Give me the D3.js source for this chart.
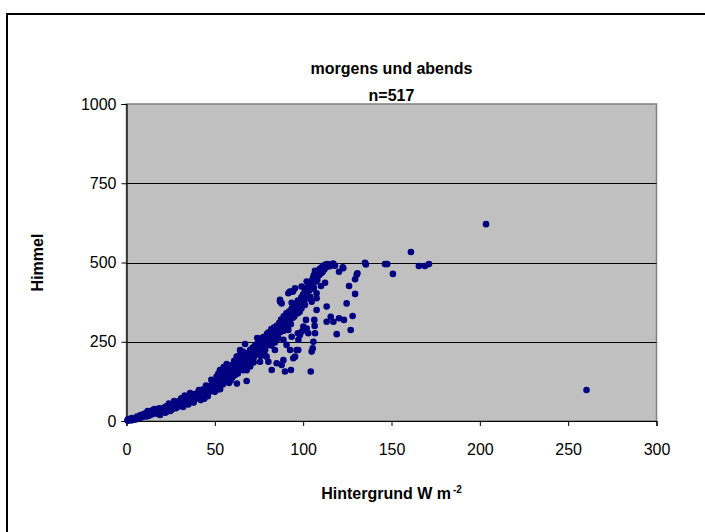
<!DOCTYPE html>
<html>
<head>
<meta charset="utf-8">
<script src="https://cdn.jsdelivr.net/npm/d3@7"></script>
<style>
  body { margin: 0; background: #fff; }
  svg { display: block; }
</style>
</head>
<body>
<div id="chart"></div>
<script>
const titleLines = ["morgens und abends", "n=517"];
const xTitle = "Hintergrund W m";
const xTitleSup = "-2";
const yTitle = "Himmel";
const xTicks = [0, 50, 100, 150, 200, 250, 300];
const yTicks = [0, 250, 500, 750, 1000];
const gridValues = [250, 500, 750];

// [Hintergrund, Himmel] pairs
const points = [
  // dense band, 0-20
  [0.5,2],[1,1],[1.5,4],[2,3],[2.5,6],[3,2],[3.5,5],[4,8],[4.5,4],[5,7],[5.5,10],[6,6],[6.5,12],[7,9],[7.5,14],[8,11],[8.5,16],[9,13],[9.5,20],[10,15],[1,6],[3,9],[6,14],[8,19],[10,22],
  [10.5,18],[11,25],[11.5,14],[12,20],[12.5,27],[13,17],[13.5,23],[14,30],[14.5,21],[15,26],[15.5,33],[16,24],[16.5,29],[17,36],[17.5,26],[18,32],[18.5,40],[19,19],[19.5,30],[20,36],[12,31],[15,35],[18,22],[16,38],
  // 20-40
  [20.5,28],[21,42],[21.5,33],[22,38],[22.5,46],[23,30],[23.5,40],[24,48],[24.5,36],[25,44],[25.5,52],[26,38],[26.5,47],[27,56],[27.5,43],[28,50],[28.5,60],[29,45],[29.5,55],[30,64],[22,26],[25,32],[28,40],[30,48],[27,63],[24,55],
  [30.5,58],[31,52],[31.5,68],[32,60],[32.5,50],[33,72],[33.5,63],[34,57],[34.5,75],[35,66],[35.5,60],[36,78],[36.5,70],[37,64],[37.5,83],[38,74],[38.5,68],[39,86],[39.5,77],[40,72],[32,44],[35,52],[38,58],[33,80],[36,88],[31,72],
  // 40-62
  [40.5,88],[41,80],[41.5,94],[42,76],[42.5,90],[43,84],[43.5,100],[44,82],[44.5,95],[45,90],[45.5,106],[46,88],[46.5,100],[47,96],[42,66],[44,70],[46,78],[41,98],[45,112],[47,110],
  [47.5,104],[48,94],[48.5,118],[49,100],[49.5,112],[50,106],[50.5,125],[51,98],[51,140],[51.5,115],[52,130],[52,150],[52.5,108],[53,122],[53.5,140],[54,128],[54,160],[54.5,115],[55,135],[55,150],[50,92],[48,130],[53,100],[55,170],
  [55.5,125],[56,145],[56.5,160],[57,130],[57.5,152],[58,140],[58.5,170],[59,148],[59.5,160],[60,138],[60,178],[60.5,155],[61,165],[61.5,145],[62,185],[62,160],[57,175],[59,128],[61,190],[58,120],
  // 62-87
  [62.5,172],[63,150],[63.5,180],[64,165],[64.5,195],[65,170],[65.5,185],[66,160],[66.5,200],[67,180],[67.5,210],[68,175],[68.5,195],[69,215],[69.5,185],[70,205],[70,225],[64,208],[66,218],[68,160],[70,172],
  [70.5,195],[71,215],[71.5,232],[72,200],[72.5,225],[73,240],[73.5,210],[74,230],[74.5,250],[75,218],[75,240],[75.5,260],[76,228],[76.5,248],[77,235],[77.5,265],[78,245],[78.5,225],[79,255],[79.5,275],[80,240],[80,262],[72,185],[76,205],[78,212],[74,262],
  [80.5,280],[81,250],[81.5,268],[82,290],[82.5,258],[83,275],[83.5,295],[84,265],[84.5,285],[85,300],[85.5,272],[86,290],[86.5,310],[87,280],[87,300],[82,238],[84,248],[86,260],
  // 87-118
  [87.5,320],[88,295],[88.5,310],[89,330],[89.5,300],[90,318],[90.5,340],[91,310],[91.5,328],[92,345],[92.5,318],[93,335],[93.5,355],[94,325],[94.5,345],[95,360],[89,285],[91,295],[93,305],[95,330],
  [95.5,345],[96,370],[96.5,350],[97,380],[97.5,360],[98,345],[98.5,375],[99,390],[99.5,365],[100,380],[100,400],[97,340],[99,355],
  [100.5,390],[101,410],[101.5,385],[102,420],[103,430],[103.5,412],[104,392],[104,440],[104.5,420],[105,435],[105.5,450],[106,420],[106,460],
  [106.5,440],[107,470],[107.5,455],[108,445],[108.5,475],[109,460],[109.5,480],[110,465],[110.5,485],[111,470],[111.5,490],[112,478],
  [112.5,490],[113,485],[114,495],[115,488],[116,493],[117,497],[118,490],
  // above the band
  [52.9,161],[56.7,180],[62.4,203],[64.3,224],[67.1,243],[86.9,382],[87.8,371],[91.6,403],[94.4,411],[92.5,408],[94,408],[99.1,424],[95.4,419],[93.5,373],[86.9,377],[102,440],[106.7,474],[112.3,487],[122.7,482],
  // below the band
  [62.5,118],[68,126],[75.6,187],[79.3,203],[80.3,187],[82.2,161],[85,182],[87.8,177],[88.8,192],[88.8,256],[89.7,156],[90.6,240],[84,224],[91.6,287],[92.6,224],[93.1,161],[93.5,266],[94.4,198],[95.4,203],[96.3,224],[97.2,224],[97,277],[97.3,256],[98.2,271],[99.2,282],[100.1,298],[101.6,319],[102,292],[102.9,277],[104.3,156],[104.8,219],[105.4,229],[105.8,250],[106.5,300],[106.7,277],[106.3,319],[107.6,350],
  [101,366],[104.8,376],[107.6,387],[102,408],[107.6,403],[105.8,418],[107.3,440],[106.7,466],[109.5,471],[110.1,426],[112.4,436],[111.4,482],[115.2,489],[113,494],[117,492],[120.3,471],[122.4,485],
  [113.3,313],[113.3,361],[115.6,329],[117.1,313],[119,274],[120.3,324],[123.1,319],[124.6,371],[126,426],[126.9,287],[128,331],[129.4,401],[129.4,447],[130.3,461],[130.7,466],
  // far right
  [135,499],[135.5,494],[146.3,495],[147.6,495],[150.8,464],[161,533],[165.5,489],[168.9,489],[171.2,495],[203.5,621],[260.4,98]
];

const width = 705;
const height = 532;
const plot = { left: 126.5, right: 656.5, top: 104, bottom: 421 };
const font = "Arial, 'Liberation Sans', sans-serif";

const svg = d3.select("#chart")
  .append("svg")
  .attr("width", width)
  .attr("height", height);

const x = d3.scaleLinear().domain([0, 300]).range([plot.left, plot.right]);
const y = d3.scaleLinear().domain([0, 1000]).range([plot.bottom, plot.top]);

// outer frame (runs off the right and bottom edge)
svg.append("path")
  .attr("d", `M7,${height} V14 H${width}`)
  .attr("fill", "none")
  .attr("stroke", "#000")
  .attr("stroke-width", 2);

// plot background
svg.append("rect")
  .attr("x", plot.left)
  .attr("y", plot.top)
  .attr("width", plot.right - plot.left)
  .attr("height", plot.bottom - plot.top)
  .attr("fill", "#c0c0c0")
  .attr("stroke", "#808080")
  .attr("stroke-width", 1.5);

svg.append("g")
  .selectAll("line")
  .data(gridValues)
  .join("line")
  .attr("x1", plot.left)
  .attr("x2", plot.right)
  .attr("y1", d => Math.round(y(d)) + 0.5)
  .attr("y2", d => Math.round(y(d)) + 0.5)
  .attr("stroke", "#000")
  .attr("stroke-width", 1);

// axes
const xAxis = svg.append("g")
  .attr("transform", `translate(0,${plot.bottom})`)
  .call(d3.axisBottom(x).tickValues(xTicks).tickSize(5).tickPadding(18).tickFormat(d3.format("d")));

const yAxis = svg.append("g")
  .attr("transform", `translate(${plot.left},0)`)
  .call(d3.axisLeft(y).tickValues(yTicks).tickSize(5).tickPadding(5).tickFormat(d3.format("d")));

[xAxis, yAxis].forEach(g => {
  g.select(".domain").attr("stroke", "#000").attr("stroke-width", 1.2);
  g.selectAll(".tick line").attr("stroke", "#000");
  g.selectAll(".tick text")
    .attr("fill", "#000")
    .attr("font-family", font)
    .attr("font-size", "16px");
});

// points
svg.append("g")
  .selectAll("circle")
  .data(points)
  .join("circle")
  .attr("cx", d => x(d[0]))
  .attr("cy", d => y(d[1]))
  .attr("r", 3.3)
  .attr("fill", "#000080");

// titles
svg.append("g")
  .selectAll("text")
  .data(titleLines)
  .join("text")
  .attr("x", (plot.left + plot.right) / 2)
  .attr("y", (d, i) => 74 + i * 27)
  .attr("text-anchor", "middle")
  .attr("font-family", font)
  .attr("font-weight", "bold")
  .attr("font-size", "16px")
  .text(d => d);

const xt = svg.append("text")
  .attr("x", (plot.left + plot.right) / 2)
  .attr("y", 499)
  .attr("text-anchor", "middle")
  .attr("font-family", font)
  .attr("font-weight", "bold")
  .attr("font-size", "16px");
xt.append("tspan").text(xTitle);
xt.append("tspan")
  .attr("dx", 2)
  .attr("dy", -6)
  .attr("font-size", "10px")
  .text(xTitleSup);

svg.append("text")
  .attr("transform", `translate(43,${(plot.top + plot.bottom) / 2}) rotate(-90)`)
  .attr("text-anchor", "middle")
  .attr("font-family", font)
  .attr("font-weight", "bold")
  .attr("font-size", "16px")
  .text(yTitle);
</script>
</body>
</html>
